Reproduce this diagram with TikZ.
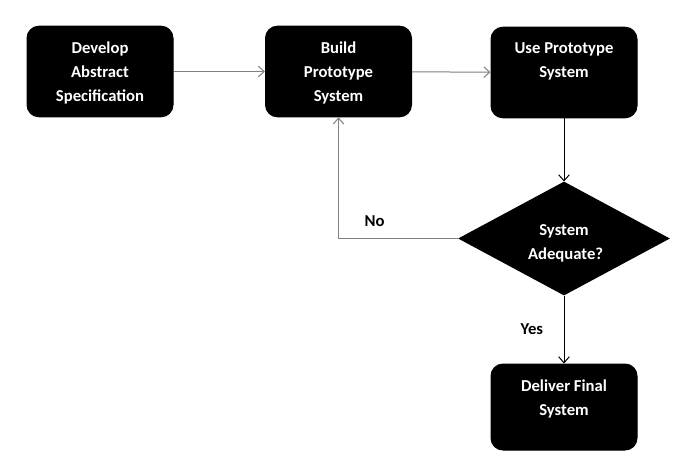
\documentclass[tikz,border=0pt]{standalone}
\usepackage{fontspec}
\setmainfont{Carlito}
\usetikzlibrary{shapes.geometric, arrows.meta}
\definecolor{mgray}{RGB}{128,128,128}
\newcommand{\boxtext}[2][44pt]{\parbox[c][#1][t]{100pt}{\centering #2}}

\tikzset{
    stage/.style={rectangle, rounded corners=9pt, draw=black, fill=black, text=white,
        font=\fontsize{12.5}{18}\selectfont\bfseries, inner xsep=4pt, inner ysep=12pt,
        minimum width=109.5pt, minimum height=68pt},
    decision/.style={diamond, shape aspect=1.86, draw=black, fill=black, text=white,
        font=\fontsize{12.5}{17.5}\selectfont\bfseries, inner sep=0pt,
        minimum width=157.5pt, minimum height=84.75pt},
    lbl/.style={font=\fontsize{12.5}{14}\selectfont\bfseries, text=black},
}

\begin{document}
\begin{tikzpicture}[x=0.75pt, y=-0.75pt, line width=0.75pt,
    >={Straight Barb[length=4.5pt, width=8pt]}]
    \useasboundingbox (0,0) rectangle (692,469);

    \node[stage] (develop) at (100, 71.5) {\boxtext{Develop\\Abstract\\Specification}};
    \node[stage] (build)   at (338.5, 71.5) {\boxtext{Build\\Prototype\\System}};
    \node[stage] (use)     at (564, 72.5) {\boxtext{Use Prototype\\System}};
    \node[decision] (adequate) at (564, 238.5)
        {\parbox{54pt}{\centering\vspace*{7.5pt}System\\Adequate?}};
    \node[stage, minimum height=64.5pt] (deliver) at (564, 407) {\boxtext[40.5pt]{Deliver Final\\System}};

    \draw[->, mgray] (develop) -- (build);
    \draw[->, mgray] (build) -- (use);
    \draw[->] (use) -- (adequate);
    \draw[->, mgray] (adequate.west) -| (build.south) node[pos=.35, above=5pt, lbl] {No};
    \draw[->] (adequate) -- (deliver) node[pos=.5, left=12pt, lbl] {Yes};
\end{tikzpicture}
\end{document}
